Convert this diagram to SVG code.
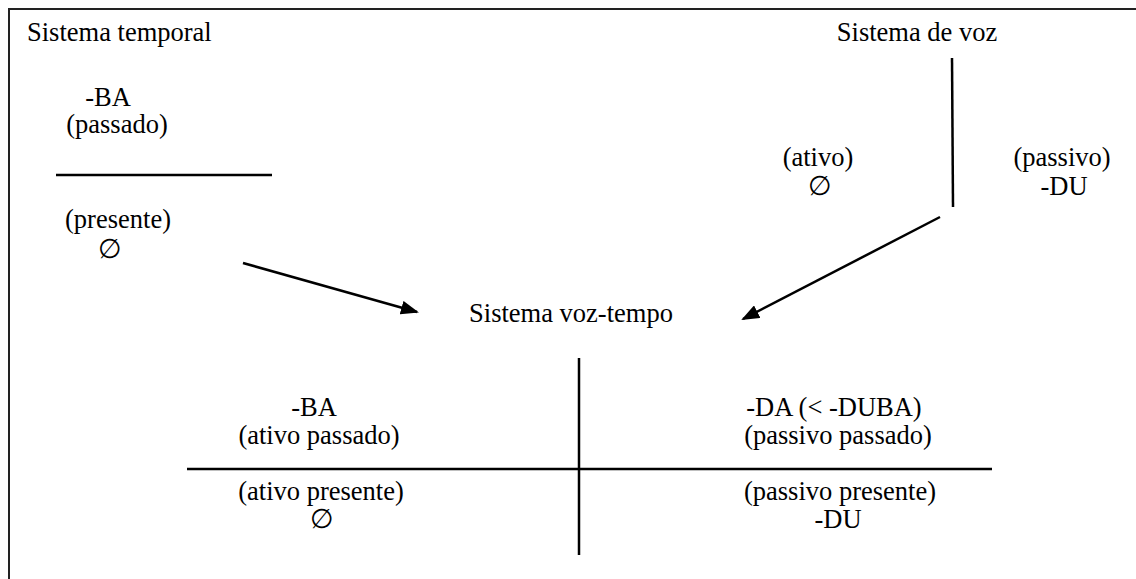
<svg xmlns="http://www.w3.org/2000/svg" width="1136" height="579" viewBox="0 0 1136 579">
<style>
text{font-family:"Liberation Serif","Times New Roman",serif;font-size:26.5px;fill:#000}
.m{text-anchor:middle}
.ln{stroke:#000;stroke-width:2.5;fill:none}
</style>
<defs>
<marker id="ah" markerWidth="18" markerHeight="14" refX="16" refY="7" orient="auto" markerUnits="userSpaceOnUse" viewBox="0 0 18 14">
<path d="M0,0 L18,7 L0,14 z" fill="#000"/>
</marker>
</defs>
<rect width="1136" height="579" fill="#fff"/>
<path d="M9,579 V9 H1136" stroke="#222" stroke-width="2" fill="none"/>
<g id="temporal">
<text x="27" y="41">Sistema temporal</text>
<text class="m"><tspan x="108" y="106">-BA</tspan><tspan x="117" y="133">(passado)</tspan></text>
<line class="ln" x1="56" y1="175" x2="272" y2="175"/>
<text class="m"><tspan x="118" y="228">(presente)</tspan><tspan x="110" y="258">∅</tspan></text>
</g>
<g id="voz">
<text x="917" y="41" class="m">Sistema de voz</text>
<line class="ln" x1="952" y1="58" x2="953" y2="207"/>
<text class="m"><tspan x="818" y="166">(ativo)</tspan><tspan x="820" y="195">∅</tspan></text>
<text class="m"><tspan x="1062" y="166">(passivo)</tspan><tspan x="1064" y="195">-DU</tspan></text>
</g>
<g id="voz-tempo">
<text x="571" y="322" class="m">Sistema voz-tempo</text>
<line class="ln" x1="579" y1="358" x2="579" y2="555"/>
<line class="ln" x1="187" y1="469" x2="992" y2="469"/>
<text class="m"><tspan x="314" y="416">-BA</tspan><tspan x="319" y="444">(ativo passado)</tspan></text>
<text class="m"><tspan x="321" y="500">(ativo presente)</tspan><tspan x="322" y="528">∅</tspan></text>
<text class="m"><tspan x="834" y="416">-DA (&lt; -DUBA)</tspan><tspan x="838" y="444">(passivo passado)</tspan></text>
<text class="m"><tspan x="840" y="500">(passivo presente)</tspan><tspan x="838" y="528">-DU</tspan></text>
</g>
<g id="connectors">
<line class="ln" x1="243" y1="263" x2="417" y2="312" marker-end="url(#ah)"/>
<line class="ln" x1="940" y1="217" x2="743" y2="319" marker-end="url(#ah)"/>
</g>
</svg>
